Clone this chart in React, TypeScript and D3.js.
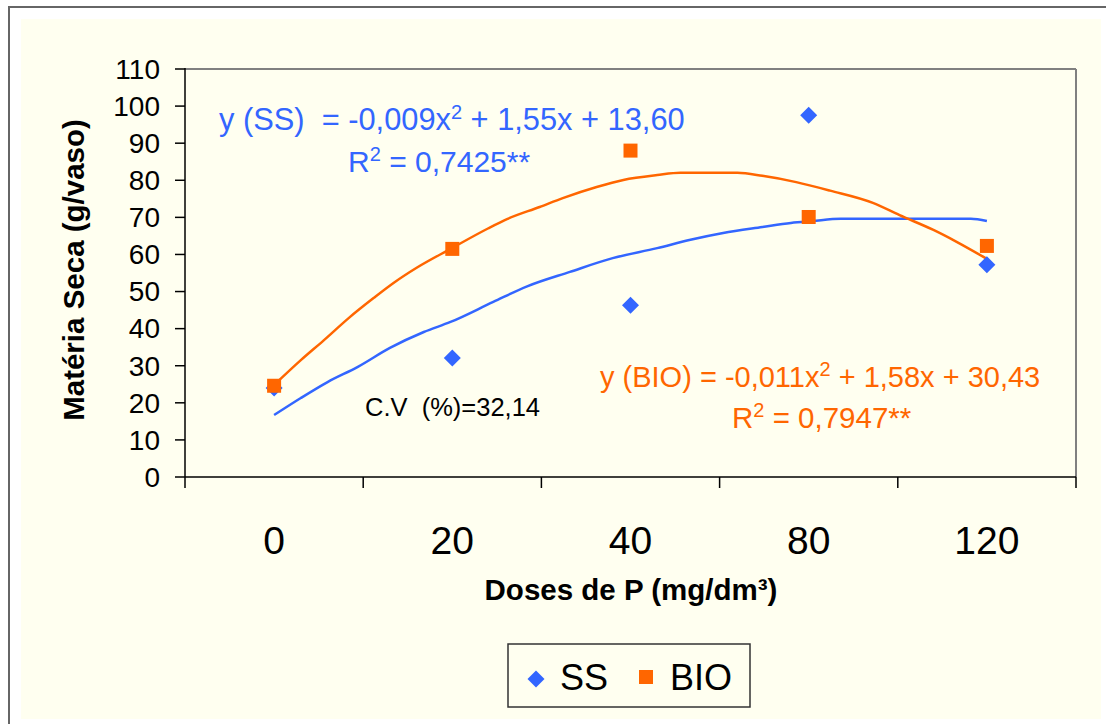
import React from "react";
import * as d3 from "d3";

const categories = ["0", "20", "40", "80", "120"];
const ssValues = [24.0, 32.1, 46.3, 97.5, 57.2];
const bioValues = [24.6, 61.5, 88.0, 70.1, 62.3];

// trend lines: position along the category axis (0..4) and value
const ssTrendPos = [0, 0.15, 0.3, 0.47, 0.65, 0.84, 0.99, 1.23, 1.42, 1.66, 1.9, 2.15, 2.33, 2.52, 2.74, 2.9, 3.02, 3.18, 3.5, 3.91, 4.0];
const ssTrendVal = [16.7, 21.3, 25.6, 29.7, 34.8, 39.1, 41.8, 47.2, 51.4, 55.3, 59.0, 61.7, 63.9, 65.8, 67.4, 68.5, 69.0, 69.6, 69.6, 69.6, 69.0];
const bioTrendPos = [0, 0.15, 0.28, 0.42, 0.56, 0.67, 0.8, 0.99, 1.2, 1.31, 1.49, 1.62, 1.81, 1.96, 2.15, 2.28, 2.6, 2.74, 2.93, 3.12, 3.36, 3.51, 3.7, 3.83, 4.0];
const bioTrendVal = [24.8, 31.5, 36.9, 42.9, 48.3, 52.3, 56.4, 61.5, 67.0, 69.6, 72.8, 75.2, 78.2, 80.1, 81.4, 82.0, 82.0, 81.2, 79.5, 77.2, 73.9, 70.6, 66.6, 63.4, 58.8];

const yTicks = [0, 10, 20, 30, 40, 50, 60, 70, 80, 90, 100, 110];

const BLUE = "#3366FF";
const ORANGE = "#FF6600";
const CREAM = "#FFFFF0";
const FONT = "'Liberation Sans', Arial, sans-serif";

export default function App() {
  const left = 185, right = 1076, top = 69, bottom = 477;
  const x = d3.scaleLinear().domain([-0.5, categories.length - 0.5]).range([left, right]);
  const y = d3.scaleLinear().domain([0, 110]).range([bottom, top]);
  const line = d3.line<[number, number]>().x(d => x(d[0])).y(d => y(d[1])).curve(d3.curveMonotoneX);
  const ssTrend = line(ssTrendPos.map((p, i) => [p, ssTrendVal[i]] as [number, number])) || "";
  const bioTrend = line(bioTrendPos.map((p, i) => [p, bioTrendVal[i]] as [number, number])) || "";
  const boundaries = d3.range(categories.length + 1).map(i => i - 0.5);

  const diamond = (cx: number, cy: number, r: number) =>
    `M${cx},${cy - r}L${cx + r},${cy}L${cx},${cy + r}L${cx - r},${cy}Z`;

  return (
    <svg width={1106} height={724} style={{ position: "absolute", left: 0, top: 0 }} fontFamily={FONT}>
      <rect x={0} y={0} width={1106} height={724} fill="#ffffff" />
      <rect x={9} y={7} width={1120} height={740} fill="#ffffff" stroke="#666" strokeWidth={2} />
      <rect x={21} y={19} width={1080} height={700} fill={CREAM} />

      {/* plot frame */}
      <line x1={left} y1={top} x2={right} y2={top} stroke="#808080" strokeWidth={2} />
      <line x1={right} y1={top} x2={right} y2={bottom} stroke="#808080" strokeWidth={2} />
      <line x1={left} y1={top - 1} x2={left} y2={bottom} stroke="#000" strokeWidth={1.5} />
      <line x1={left} y1={bottom} x2={right} y2={bottom} stroke="#000" strokeWidth={1.5} />

      {/* y ticks */}
      {yTicks.map(t => (
        <g key={t}>
          <line x1={left - 10} x2={left} y1={y(t)} y2={y(t)} stroke="#000" strokeWidth={1.5} />
          <text x={160} y={y(t)} dy="0.35em" textAnchor="end" fontSize={28} fill="#000">{t}</text>
        </g>
      ))}
      {/* x ticks */}
      {boundaries.map(b => (
        <line key={b} x1={x(b)} x2={x(b)} y1={bottom} y2={bottom + 11} stroke="#000" strokeWidth={1.5} />
      ))}
      {categories.map((c, i) => (
        <text key={c} x={x(i)} y={554} textAnchor="middle" fontSize={39} fill="#000">{c}</text>
      ))}

      {/* axis titles */}
      <text transform={`translate(84,270) rotate(-90)`} textAnchor="middle" fontSize={29.5} fontWeight="bold" fill="#000">
        Matéria Seca (g/vaso)
      </text>
      <text x={631} y={600} textAnchor="middle" fontSize={29.5} fontWeight="bold" fill="#000">
        Doses de P (mg/dm³)
      </text>

      {/* trend lines */}
      <path d={ssTrend} fill="none" stroke={BLUE} strokeWidth={2.5} />
      <path d={bioTrend} fill="none" stroke={ORANGE} strokeWidth={2.5} />

      {/* points */}
      {ssValues.map((v, i) => (
        <path key={"s" + i} d={diamond(x(i), y(v), 8.5)} fill={BLUE} />
      ))}
      {bioValues.map((v, i) => (
        <rect key={"b" + i} x={x(i) - 7} y={y(v) - 7} width={14} height={14} fill={ORANGE} />
      ))}

      {/* equations */}
      <text x={219} y={130} fontSize={30.8} fill={BLUE} xmlSpace="preserve">
        {"y (SS)  = -0,009x"}<tspan dy={-11} fontSize={20}>2</tspan><tspan dy={11}>{" + 1,55x + 13,60"}</tspan>
      </text>
      <text x={348} y={172} fontSize={30} fill={BLUE}>
        R<tspan dy={-11} fontSize={20}>2</tspan><tspan dy={11}>{" = 0,7425**"}</tspan>
      </text>
      <text x={600} y={387} fontSize={29} fill={ORANGE}>
        {"y (BIO) = -0,011x"}<tspan dy={-11} fontSize={20}>2</tspan><tspan dy={11}>{" + 1,58x + 30,43"}</tspan>
      </text>
      <text x={732} y={428} fontSize={29.5} fill={ORANGE}>
        R<tspan dy={-11} fontSize={20}>2</tspan><tspan dy={11}>{" = 0,7947**"}</tspan>
      </text>
      <text x={365} y={416} fontSize={25.5} fill="#000" xmlSpace="preserve">{"C.V  (%)=32,14"}</text>

      {/* legend */}
      <rect x={508} y={644} width={242} height={63} fill={CREAM} stroke="#333" strokeWidth={1.5} />
      <path d={diamond(536, 679, 8.5)} fill={BLUE} />
      <text x={560} y={690} fontSize={36} fill="#000">SS</text>
      <rect x={639} y={670} width={14} height={14} fill={ORANGE} />
      <text x={670} y={690} fontSize={36} fill="#000">BIO</text>
    </svg>
  );
}
